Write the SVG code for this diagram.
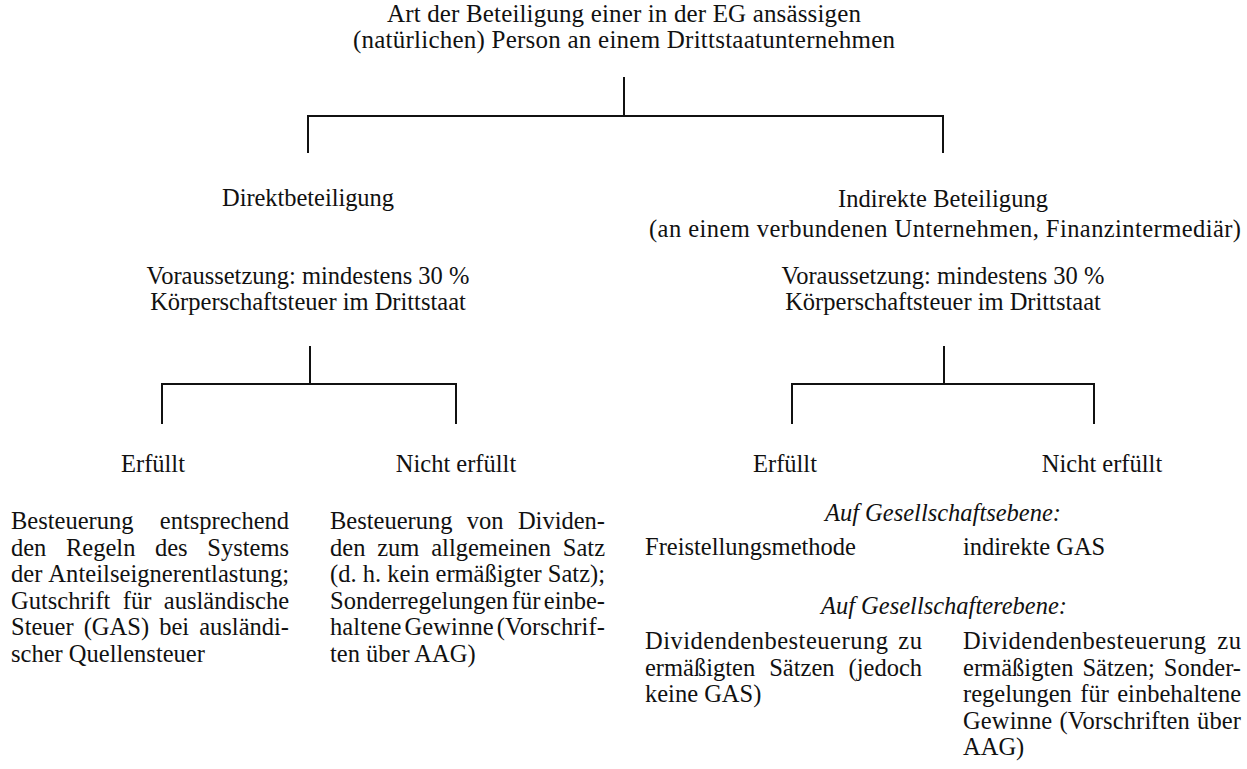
<svg xmlns="http://www.w3.org/2000/svg" width="1247" height="769" viewBox="0 0 1247 769">
<style>
text{font-family:"Liberation Serif","Times New Roman",serif;font-size:24.5px;fill:#111}
.c{text-anchor:middle}
.t{font-size:25px}
.i{font-style:italic}
.ln{stroke:#111;stroke-width:2;fill:none;stroke-linecap:square}
</style>
<rect width="1247" height="769" fill="#fff"/>
<g id="connectors">
<path class="ln" d="M624 78V116M308 152V116H943V152"/>
<path class="ln" d="M310 347V384M162 423V384H456V423"/>
<path class="ln" d="M944 347V384M792 423V384H1094V423"/>
</g>
<g id="root">
<text class="c t" x="624" y="22" textLength="474" lengthAdjust="spacing">Art der Beteiligung einer in der EG ansässigen</text>
<text class="c t" x="624" y="48" textLength="542" lengthAdjust="spacing">(natürlichen) Person an einem Drittstaatunternehmen</text>
</g>
<g id="direkt">
<text class="c" x="308" y="206" textLength="172" lengthAdjust="spacing">Direktbeteiligung</text>
</g>
<g id="indirekt">
<text class="c" x="943" y="207" textLength="210" lengthAdjust="spacing">Indirekte Beteiligung</text>
<text class="c" x="945" y="237" textLength="592" lengthAdjust="spacing">(an einem verbundenen Unternehmen, Finanzintermediär)</text>
</g>
<g id="vor-direkt">
<text class="c" x="308" y="284">Voraussetzung: mindestens 30 %</text>
<text class="c" x="308" y="310">Körperschaftsteuer im Drittstaat</text>
</g>
<g id="vor-indirekt">
<text class="c" x="943" y="284">Voraussetzung: mindestens 30 %</text>
<text class="c" x="943" y="310">Körperschaftsteuer im Drittstaat</text>
</g>
<g id="direkt-erfuellt">
<text class="c" x="153" y="472">Erfüllt</text>
<text x="11" y="529" word-spacing="20.2" textLength="278" lengthAdjust="spacing">Besteuerung entsprechend</text>
<text x="11" y="555.6" word-spacing="13.5" textLength="278" lengthAdjust="spacing">den Regeln des Systems</text>
<text x="11" y="582.2" word-spacing="1.1" textLength="278" lengthAdjust="spacing">der Anteilseignerentlastung;</text>
<text x="11" y="608.8" word-spacing="6.3" textLength="278" lengthAdjust="spacing">Gutschrift für ausländische</text>
<text x="11" y="635.4" word-spacing="4" textLength="278" lengthAdjust="spacing">Steuer (GAS) bei ausländi-</text>
<text x="11" y="662">scher Quellensteuer</text>
</g>
<g id="direkt-nicht">
<text class="c" x="456" y="472">Nicht erfüllt</text>
<text x="330" y="529" word-spacing="8.2" textLength="275" lengthAdjust="spacing">Besteuerung von Dividen-</text>
<text x="330" y="555.6" word-spacing="5.7" textLength="275" lengthAdjust="spacing">den zum allgemeinen Satz</text>
<text x="330" y="582.2" textLength="275" lengthAdjust="spacing">(d. h. kein ermäßigter Satz);</text>
<text x="330" y="608.8" word-spacing="-2.7" textLength="275" lengthAdjust="spacing">Sonderregelungen für einbe-</text>
<text x="330" y="635.4" word-spacing="-3.3" textLength="275" lengthAdjust="spacing">haltene Gewinne (Vorschrif-</text>
<text x="330" y="662">ten über AAG)</text>
</g>
<g id="indirekt-erfuellt">
<text class="c" x="785" y="472">Erfüllt</text>
<text x="645" y="555">Freistellungsmethode</text>
<text x="645" y="649" word-spacing="3.3" textLength="277" lengthAdjust="spacing">Dividendenbesteuerung zu</text>
<text x="645" y="675.6" word-spacing="7.9" textLength="277" lengthAdjust="spacing">ermäßigten Sätzen (jedoch</text>
<text x="645" y="702.2">keine GAS)</text>
</g>
<g id="indirekt-nicht">
<text class="c" x="1102" y="472">Nicht erfüllt</text>
<text x="963" y="555">indirekte GAS</text>
<text x="963" y="649" word-spacing="4.3" textLength="278" lengthAdjust="spacing">Dividendenbesteuerung zu</text>
<text x="963" y="675.6" word-spacing="2.9" textLength="278" lengthAdjust="spacing">ermäßigten Sätzen; Sonder-</text>
<text x="963" y="702.2" word-spacing="2.3" textLength="278" lengthAdjust="spacing">regelungen für einbehaltene</text>
<text x="963" y="728.8" word-spacing="0.9" textLength="278" lengthAdjust="spacing">Gewinne (Vorschriften über</text>
<text x="963" y="755.4">AAG)</text>
</g>
<g id="ebenen">
<text class="c i" x="943" y="521">Auf Gesellschaftsebene:</text>
<text class="c i" x="944" y="614">Auf Gesellschafterebene:</text>
</g>
</svg>
